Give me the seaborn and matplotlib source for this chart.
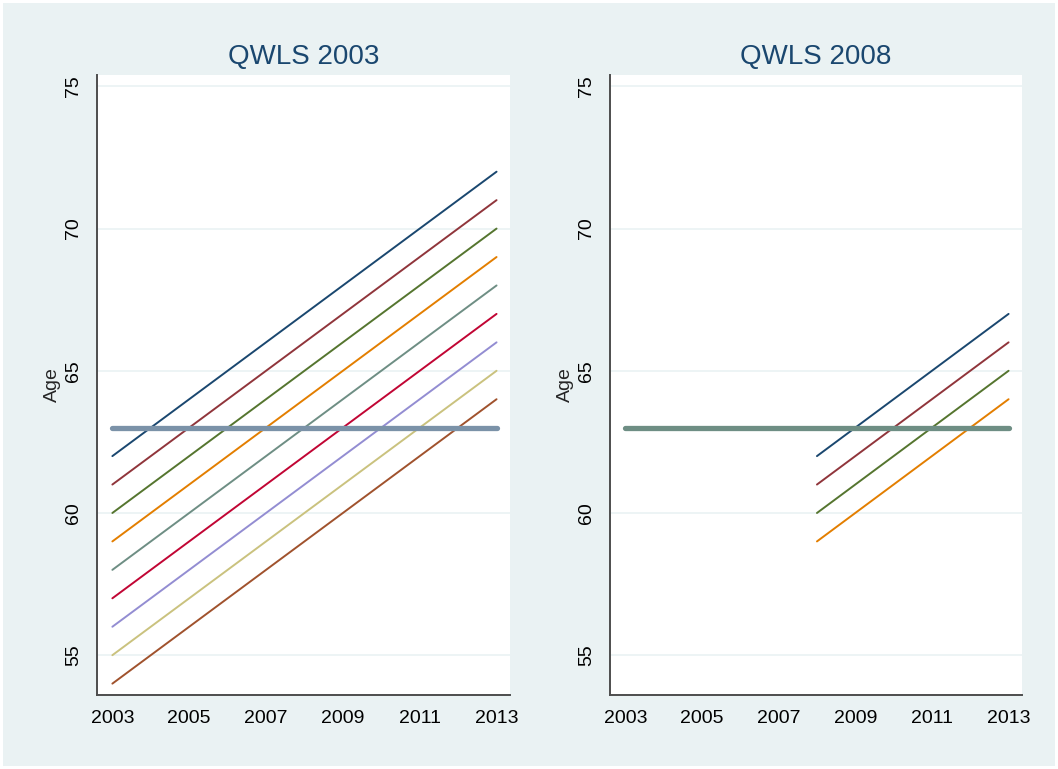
import pandas as pd
import matplotlib.pyplot as plt
import seaborn as sns

# cohort lines, QWLS 2003 panel (age in 2003 -> age in 2013)
left_years = [2003, 2013]
left_start_age = [62, 61, 60, 59, 58, 57, 56, 55, 54]
left_end_age = [72, 71, 70, 69, 68, 67, 66, 65, 64]

# cohort lines, QWLS 2008 panel (age in 2008 -> age in 2013)
right_years = [2008, 2013]
right_start_age = [62, 61, 60, 59]
right_end_age = [67, 66, 65, 64]

# reference (pension) age line
ref_years = [2003, 2013]
ref_age = [63, 63]

titles = ['QWLS 2003', 'QWLS 2008']
x_ticks = [2003, 2005, 2007, 2009, 2011, 2013]
y_ticks = [55, 60, 65, 70, 75]

# Stata s2color palette
stata_colors = ['#1A476F', '#90353B', '#55752F', '#E37E00', '#6E8E84',
                '#C10534', '#938DD2', '#CAC27E', '#A0522D', '#7B92A8']

bg = '#EAF2F3'


def to_long(years, start, end):
    rows = []
    for i, (a, b) in enumerate(zip(start, end)):
        rows.append({'cohort': i, 'year': years[0], 'age': a})
        rows.append({'cohort': i, 'year': years[1], 'age': b})
    return pd.DataFrame(rows)


left_df = to_long(left_years, left_start_age, left_end_age)
right_df = to_long(right_years, right_start_age, right_end_age)
ref_df = pd.DataFrame({'year': ref_years, 'age': ref_age})

sns.set_style('white')
plt.rcParams['font.family'] = ['Liberation Sans', 'DejaVu Sans']

fig = plt.figure(figsize=(10.58, 7.69), dpi=100)
fig.patch.set_facecolor(bg)
fig.patch.set_edgecolor('white')
fig.patch.set_linewidth(4)

H = 769
W = 1058
ax1 = fig.add_axes([97 / W, 1 - 695 / H, 413 / W, 620 / H])
ax2 = fig.add_axes([610 / W, 1 - 695 / H, 412 / W, 620 / H])

panels = [
    (ax1, left_df, len(left_start_age), stata_colors[9]),
    (ax2, right_df, len(right_start_age), stata_colors[4]),
]

for k, (ax, df, n, ref_color) in enumerate(panels):
    ax.set_facecolor('white')
    for y in y_ticks:
        ax.axhline(y, color=bg, lw=1.2, zorder=0)
    sns.lineplot(data=df, x='year', y='age', hue='cohort',
                 palette=stata_colors[:n], lw=1.4, legend=False, ax=ax,
                 zorder=3)
    sns.lineplot(data=ref_df, x='year', y='age', color=ref_color, lw=3.8,
                 ax=ax, zorder=4, solid_capstyle='round')
    ax.set_xlim(2002.6, 2013.35)
    ax.set_ylim(53.6, 75.4)
    ax.set_xticks(x_ticks)
    ax.set_xticklabels([str(t) for t in x_ticks], fontsize=14)
    ax.set_yticks(y_ticks)
    ax.set_yticklabels([str(t) for t in y_ticks], fontsize=14, rotation=90,
                       va='center')
    ax.tick_params(axis='both', direction='out', length=5.5, width=0.9,
                   color='#606060', labelcolor='black', pad=5)
    ax.set_xlabel('')
    ax.set_ylabel('Age', fontsize=14, labelpad=3)
    for side in ['top', 'right']:
        ax.spines[side].set_visible(False)
    for side in ['left', 'bottom']:
        ax.spines[side].set_color('#4d4d4d')
        ax.spines[side].set_linewidth(1.4)
    ax.set_title(titles[k], fontsize=20, color='#1A476F', pad=8)

fig.savefig('out.png', dpi=100, facecolor=fig.get_facecolor(),
            edgecolor=fig.get_edgecolor())
